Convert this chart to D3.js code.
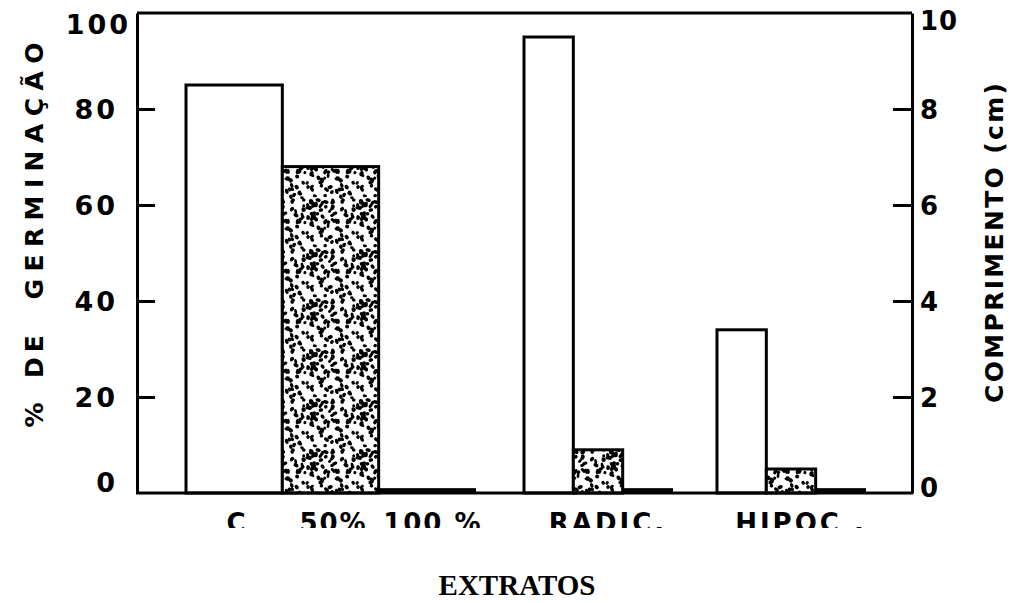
<!DOCTYPE html>
<html>
<head>
<meta charset="utf-8">
<script src="https://cdn.jsdelivr.net/npm/d3@7/dist/d3.min.js"></script>
<style>
  html, body { margin: 0; padding: 0; background: #fff; }
  svg { display: block; }
</style>
</head>
<body>
<svg id="chart" width="1014" height="603"></svg>
<script>
// ---- data ----
const germCategories = ["C", "50%", "100%"];
const germValues = [85, 68, 0.8];            // % de germinação (left axis)
const lengthGroups = ["RADIC.", "HIPOC ."];
const lengthSeries = ["C", "50%", "100%"];
const radicValues = [9.5, 0.9, 0.08];        // comprimento (cm) (right axis)
const hipocValues = [3.4, 0.5, 0.08];
const leftTicks = [0, 20, 40, 60, 80, 100];
const rightTicks = [0, 2, 4, 6, 8, 10];
const germLabels = ["C", "50%", "100 %"];
const seriesFill = { "C": "#fff", "50%": "url(#stipple)", "100%": "#000" };

// ---- layout ----
const svg = d3.select("#chart");
const L = 137, R = 912, T = 13, B = 493;
const font = "'DejaVu Sans', Verdana, sans-serif";

const yL = d3.scaleLinear().domain([0, 100]).range([B, T]);
const yR = d3.scaleLinear().domain([0, 10]).range([B, T]);

const xGerm = d3.scaleBand().domain(germCategories).range([186, 475]);
const xGroup = d3.scaleBand().domain(lengthGroups).range([524, 865]).paddingInner(0.233);
const xSub = d3.scaleBand().domain(lengthSeries).range([0, xGroup.bandwidth()]);

// ---- stipple pattern (texture only) ----
const defs = svg.append("defs");
const TS = 50;
const pat = defs.append("pattern").attr("id", "stipple")
  .attr("patternUnits", "userSpaceOnUse").attr("width", TS).attr("height", TS);
pat.append("rect").attr("width", TS).attr("height", TS).attr("fill", "#fff");
let seed = 987654;
function rnd() { seed = (seed * 1103515245 + 12345) % 2147483648; return seed / 2147483648; }
for (let i = 0; i < 90; i++) {
  const cx = rnd() * TS, cy = rnd() * TS;
  const rx = 1.5 + rnd() * 1.4, ry = 1.4 + rnd() * 0.6, a = rnd() * 180;
  [-TS, 0, TS].forEach(ox => [-TS, 0, TS].forEach(oy => {
    pat.append("ellipse").attr("cx", cx + ox).attr("cy", cy + oy)
      .attr("rx", rx).attr("ry", ry)
      .attr("transform", `rotate(${a},${cx + ox},${cy + oy})`)
      .attr("fill", "#000");
  }));
}
defs.append("clipPath").attr("id", "labclip")
  .append("rect").attr("x", 0).attr("y", 500).attr("width", 1014).attr("height", 28);

// ---- bars ----
const bars = svg.append("g");
bars.selectAll("rect.germ").data(germCategories.map((c, i) => ({ c, v: germValues[i] })))
  .join("rect").attr("class", "germ")
  .attr("x", d => xGerm(d.c)).attr("width", xGerm.bandwidth())
  .attr("y", d => yL(d.v)).attr("height", d => yL(0) - yL(d.v))
  .attr("fill", d => seriesFill[d.c]).attr("stroke", "#000")
  .attr("stroke-width", d => d.c === "100%" ? 2 : 3);

const lenData = [];
lengthGroups.forEach((g, gi) => {
  const vals = gi === 0 ? radicValues : hipocValues;
  lengthSeries.forEach((s, si) => lenData.push({ g, s, v: vals[si] }));
});
bars.selectAll("rect.len").data(lenData).join("rect").attr("class", "len")
  .attr("x", d => xGroup(d.g) + xSub(d.s)).attr("width", xSub.bandwidth())
  .attr("y", d => yR(d.v)).attr("height", d => yR(0) - yR(d.v))
  .attr("fill", d => seriesFill[d.s]).attr("stroke", "#000")
  .attr("stroke-width", d => d.s === "100%" ? 2 : 3);

// ---- frame ----
svg.append("line").attr("x1", L).attr("x2", R).attr("y1", yL(100)).attr("y2", yL(100))
  .attr("stroke", "#000").attr("stroke-width", 3);
svg.append("line").attr("x1", L - 1).attr("x2", R + 1).attr("y1", yL(0)).attr("y2", yL(0))
  .attr("stroke", "#000").attr("stroke-width", 3);

// ---- axes ----
const axL = svg.append("g").attr("transform", `translate(${L},0)`)
  .call(d3.axisLeft(yL).tickValues(leftTicks).tickSizeInner(-18).tickSizeOuter(0).tickPadding(19));
const axR = svg.append("g").attr("transform", `translate(${R},0)`)
  .call(d3.axisRight(yR).tickValues(rightTicks).tickSizeInner(-19).tickSizeOuter(0).tickPadding(8));
[axL, axR].forEach(ax => {
  ax.select(".domain").attr("stroke", "#000").attr("stroke-width", 3);
  ax.selectAll(".tick line").attr("stroke", "#000").attr("stroke-width", 3);
  ax.selectAll(".tick text").attr("fill", "#000").attr("font-family", font)
    .attr("font-weight", "bold").attr("font-size", 27).attr("letter-spacing", 3);
});
axL.selectAll(".tick").filter(d => d === 0 || d === 100).select("line").remove();
axR.selectAll(".tick").filter(d => d === 0 || d === 10).select("line").remove();
axL.selectAll(".tick text").attr("dy", d => d === 100 ? "0.75em" : d === 0 ? "-0.05em" : "0.36em")
  .attr("x", d => d === 100 ? -6 : -19);
axR.selectAll(".tick text").attr("dy", d => d === 10 ? "0.62em" : d === 0 ? "0.15em" : "0.36em")
  .attr("font-size", 26).attr("letter-spacing", 1);

// ---- category labels ----
const labs = svg.append("g").attr("clip-path", "url(#labclip)")
  .attr("font-family", font).attr("font-weight", "bold").attr("font-size", 26)
  .attr("letter-spacing", 2).attr("text-anchor", "middle").attr("fill", "#000");
labs.selectAll("text.g").data(germCategories).join("text").attr("class", "g")
  .attr("x", (d, i) => xGerm(d) + xGerm.bandwidth() / 2 + (i === 2 ? 6 : 3))
  .attr("y", 532).text((d, i) => germLabels[i]);
labs.selectAll("text.l").data(lengthGroups).join("text").attr("class", "l")
  .attr("x", d => xGroup(d) + xGroup.bandwidth() / 2 + 10)
  .attr("y", 532).attr("letter-spacing", 3).text(d => d);

// ---- axis titles ----
const lt = svg.append("g").attr("font-family", font).attr("font-weight", "bold")
  .attr("font-size", 25).attr("fill", "#000");
[["%", 415, 0, 0], ["DE", 354, 0, 5], ["GERMINAÇÃO", 171, 257, 0]].forEach(([t, cy, len, ls]) => {
  const tx = lt.append("text").attr("transform", `translate(43,${cy}) rotate(-90)`)
    .attr("text-anchor", "middle").attr("letter-spacing", ls).text(t);
  if (len) tx.attr("textLength", len).attr("lengthAdjust", "spacing");
});
svg.append("text").attr("transform", "translate(1003,243) rotate(-90)")
  .attr("text-anchor", "middle").attr("font-family", font).attr("font-weight", "bold")
  .attr("font-size", 25).attr("fill", "#000")
  .attr("textLength", 320).attr("lengthAdjust", "spacing")
  .text("COMPRIMENTO (cm)");

svg.append("text").attr("x", 517).attr("y", 595).attr("text-anchor", "middle")
  .attr("font-family", "'Liberation Serif', 'Times New Roman', serif")
  .attr("font-weight", "bold").attr("font-size", 29).attr("fill", "#000")
  .text("EXTRATOS");
</script>
</body>
</html>
